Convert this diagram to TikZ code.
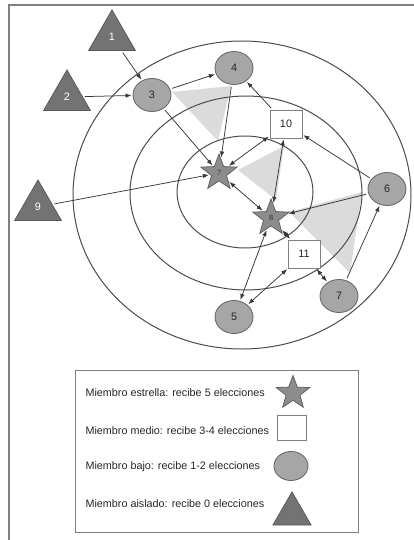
\documentclass[tikz,border=0pt]{standalone}
\usepackage{fontspec}
\setsansfont{Liberation Sans}
\newfontfamily\starfont{Liberation Serif}
\usepackage{tikz}
\usetikzlibrary{shapes.geometric}
\usetikzlibrary{arrows.meta}

\definecolor{isofill}{gray}{0.45}
\definecolor{isoline}{gray}{0.35}
\definecolor{lowfill}{gray}{0.65}
\definecolor{lowline}{gray}{0.42}
\definecolor{starfill}{gray}{0.55}
\definecolor{starline}{gray}{0.38}
\definecolor{midline}{gray}{0.5}
\definecolor{linecol}{gray}{0.22}
\definecolor{ringcol}{gray}{0.3}
\definecolor{wedgecol}{gray}{0.86}
\definecolor{framecol}{gray}{0.5}

\begin{document}
\begin{tikzpicture}
    [
    x=1pt, y=-1pt,
    every node/.style={font=\sffamily\fontsize{10.8}{12}\selectfont, text=black!85},
    low/.style={ellipse,draw=lowline,fill=lowfill,line width=0.9pt,minimum width=38pt,minimum height=33pt,inner sep=0pt},
    mid/.style={rectangle,draw=midline,fill=white,line width=0.9pt,minimum width=32pt,minimum height=28pt,inner sep=0pt},
    isol/.style={regular polygon,regular polygon sides=3,draw=isoline,fill=isofill,line width=0.8pt,minimum size=54pt,inner sep=0pt,text=white},
    starm/.style={star,star points=5,star point ratio=2.4,draw=starline,fill=starfill,line width=0.8pt,minimum size=38pt,inner sep=0pt,font=\starfont\fontsize{8}{8}\selectfont},
    choice/.style={-{Latex[length=6pt,width=4.5pt]},draw=linecol,line width=0.75pt,shorten <=2pt,shorten >=1pt},
    mutual/.style={{Latex[length=6pt,width=4.5pt]}-{Latex[length=6pt,width=4.5pt]},draw=linecol,line width=0.75pt,shorten <=1pt,shorten >=1pt},
    ring/.style={draw=ringcol,line width=1pt},
    wedge/.style={fill=wedgecol},
    ]
    \useasboundingbox (0,0) rectangle (414,540);
    \fill [white] (0,0) rectangle (414,540);
    \draw [framecol, line width=1.3pt] (9,545) |- (420,5);

    % shaded groups
    \fill [wedge] (172,92) -- (231,86) -- (218,141) -- cycle;
    \fill [wedge] (238,170) -- (284,146) -- (276,200) -- cycle;
    \fill [wedge] (289,212) -- (362,192) -- (350,273) -- cycle;

    % target rings
    \draw [ring] (242,195) ellipse [x radius=169, y radius=154];
    \draw [ring] (246,193) ellipse [x radius=116, y radius=97];
    \draw [ring] (245,192) ellipse [x radius=68, y radius=56];

    % members
    \node (a1) at (112,37) [isol] {1};
    \node (a2) at (67,97) [isol] {2};
    \node (a9) at (38,207) [isol] {9};
    \node (b3) at (152,95) [low] {3};
    \node (b4) at (234,68) [low] {4};
    \node (b6) at (387,189) [low] {6};
    \node (b7) at (339,296) [low] {7};
    \node (b5) at (234,317) [low] {5};
    \node (m10) at (286,124) [mid] {10};
    \node (m11) at (304,254) [mid] {11};
    \node (s7) at (219,173) [starm] {7};
    \node (s8) at (271,218) [starm] {8};

    \draw [choice] (a1) to (b3);
    \draw [choice] (a2) to (b3);
    \draw [choice] (a9) to (s7);
    \draw [choice] (b3) to (b4);
    \draw [choice] (b3) to (s7);
    \draw [choice] (b4) to (s7);
    \draw [choice] (m10) to (b4);
    \draw [mutual] (m10) to (s7);
    \draw [mutual] (m10) to (s8);
    \draw [choice] (b6) to (m10);
    \draw [choice] (b6) to (s8);
    \draw [mutual] (s7) to (s8);
    \draw [mutual] (m11) to (s8);
    \draw [mutual] (m11) to (b7);
    \draw [choice] (b7) to (b6);
    \draw [mutual] (b5) to (s8);
    \draw [mutual] (b5) to (m11);

    % legend
    \draw [midline, line width=1pt] (75,370) rectangle (358,532);
    \node (ltstar) at (82,393) [anchor=west] {Miembro estrella: recibe 5 elecciones};
    \node (ltmid) at (82,431) [anchor=west] {Miembro medio: recibe 3-4 elecciones};
    \node (ltlow) at (82,467) [anchor=west] {Miembro bajo: recibe 1-2 elecciones};
    \node (ltiso) at (82,504) [anchor=west] {Miembro aislado: recibe 0 elecciones};
    \node (lsstar) at (293,393) [starm, minimum size=35pt] {};
    \node (lsmid) at (292,428) [mid, minimum width=29pt, minimum height=25pt] {};
    \node (lslow) at (291,466) [low, minimum width=34pt, minimum height=29pt] {};
    \node (lsiso) at (292,514) [isol, minimum size=44pt] {};
  \end{tikzpicture}
\end{document}
